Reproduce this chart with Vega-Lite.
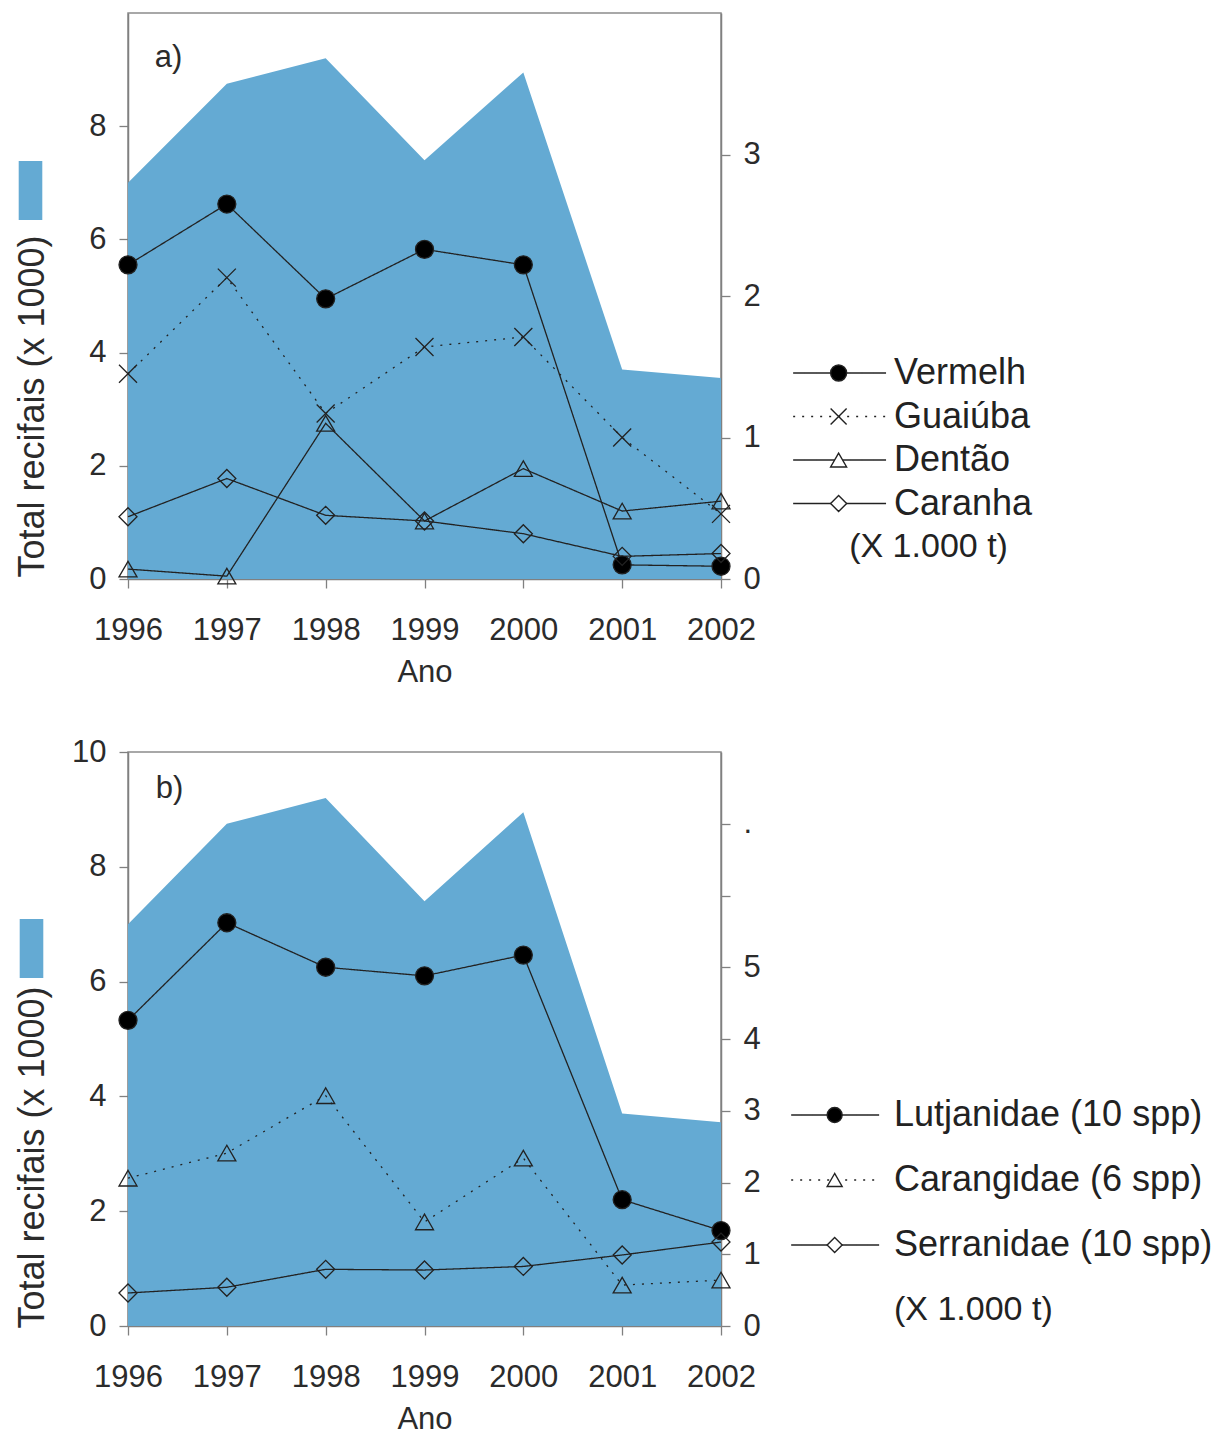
{
  "$schema": "https://vega.github.io/schema/vega-lite/v6.json",
  "background": "white",
  "padding": {"left": 0, "top": 12, "right": 0, "bottom": 0},
  "config": {
    "font": "Liberation Sans",
    "view": {"stroke": "#8c8c8c", "strokeWidth": 1.5},
    "axis": {
      "grid": false,
      "domainColor": "#808080",
      "domainWidth": 1.5,
      "tickColor": "#808080",
      "tickWidth": 1.3,
      "tickSize": 9,
      "labelFont": "Liberation Sans",
      "labelFontSize": 31,
      "labelColor": "#2b2b2b",
      "labelPadding": 13,
      "titleFont": "Liberation Sans",
      "titleFontSize": 36,
      "titleFontWeight": "normal",
      "titleColor": "#2b2b2b"
    },
    "axisX": {"labelPadding": 27, "titlePadding": 12, "labelFlush": false, "titleFontSize": 31}
  },
  "datasets": {
    "total": [
      {"ano": 1996, "total": 7.0},
      {"ano": 1997, "total": 8.75},
      {"ano": 1998, "total": 9.2},
      {"ano": 1999, "total": 7.4},
      {"ano": 2000, "total": 8.95},
      {"ano": 2001, "total": 3.7},
      {"ano": 2002, "total": 3.55}
    ],
    "especies": [
      {"ano": 1996, "serie": "Vermelh", "valor": 2.22},
      {"ano": 1997, "serie": "Vermelh", "valor": 2.65},
      {"ano": 1998, "serie": "Vermelh", "valor": 1.98},
      {"ano": 1999, "serie": "Vermelh", "valor": 2.33},
      {"ano": 2000, "serie": "Vermelh", "valor": 2.22},
      {"ano": 2001, "serie": "Vermelh", "valor": 0.1},
      {"ano": 2002, "serie": "Vermelh", "valor": 0.09},
      {"ano": 1996, "serie": "Guaiúba", "valor": 1.45},
      {"ano": 1997, "serie": "Guaiúba", "valor": 2.13},
      {"ano": 1998, "serie": "Guaiúba", "valor": 1.17},
      {"ano": 1999, "serie": "Guaiúba", "valor": 1.64},
      {"ano": 2000, "serie": "Guaiúba", "valor": 1.71},
      {"ano": 2001, "serie": "Guaiúba", "valor": 1.0},
      {"ano": 2002, "serie": "Guaiúba", "valor": 0.46},
      {"ano": 1996, "serie": "Dentão", "valor": 0.07},
      {"ano": 1997, "serie": "Dentão", "valor": 0.02},
      {"ano": 1998, "serie": "Dentão", "valor": 1.1},
      {"ano": 1999, "serie": "Dentão", "valor": 0.41},
      {"ano": 2000, "serie": "Dentão", "valor": 0.78},
      {"ano": 2001, "serie": "Dentão", "valor": 0.48},
      {"ano": 2002, "serie": "Dentão", "valor": 0.55},
      {"ano": 1996, "serie": "Caranha", "valor": 0.44},
      {"ano": 1997, "serie": "Caranha", "valor": 0.71},
      {"ano": 1998, "serie": "Caranha", "valor": 0.45},
      {"ano": 1999, "serie": "Caranha", "valor": 0.41},
      {"ano": 2000, "serie": "Caranha", "valor": 0.32},
      {"ano": 2001, "serie": "Caranha", "valor": 0.16},
      {"ano": 2002, "serie": "Caranha", "valor": 0.18}
    ],
    "familias": [
      {"ano": 1996, "serie": "Lutjanidae (10 spp)", "valor": 4.26},
      {"ano": 1997, "serie": "Lutjanidae (10 spp)", "valor": 5.62},
      {"ano": 1998, "serie": "Lutjanidae (10 spp)", "valor": 5.0},
      {"ano": 1999, "serie": "Lutjanidae (10 spp)", "valor": 4.88},
      {"ano": 2000, "serie": "Lutjanidae (10 spp)", "valor": 5.17},
      {"ano": 2001, "serie": "Lutjanidae (10 spp)", "valor": 1.76},
      {"ano": 2002, "serie": "Lutjanidae (10 spp)", "valor": 1.33},
      {"ano": 1996, "serie": "Carangidae (6 spp)", "valor": 2.06},
      {"ano": 1997, "serie": "Carangidae (6 spp)", "valor": 2.41},
      {"ano": 1998, "serie": "Carangidae (6 spp)", "valor": 3.21},
      {"ano": 1999, "serie": "Carangidae (6 spp)", "valor": 1.45},
      {"ano": 2000, "serie": "Carangidae (6 spp)", "valor": 2.34},
      {"ano": 2001, "serie": "Carangidae (6 spp)", "valor": 0.57},
      {"ano": 2002, "serie": "Carangidae (6 spp)", "valor": 0.64},
      {"ano": 1996, "serie": "Serranidae (10 spp)", "valor": 0.46},
      {"ano": 1997, "serie": "Serranidae (10 spp)", "valor": 0.54},
      {"ano": 1998, "serie": "Serranidae (10 spp)", "valor": 0.79},
      {"ano": 1999, "serie": "Serranidae (10 spp)", "valor": 0.78},
      {"ano": 2000, "serie": "Serranidae (10 spp)", "valor": 0.83},
      {"ano": 2001, "serie": "Serranidae (10 spp)", "valor": 0.99},
      {"ano": 2002, "serie": "Serranidae (10 spp)", "valor": 1.17}
    ],
    "legenda_a": [
      {"serie": "Vermelh"},
      {"serie": "Guaiúba"},
      {"serie": "Dentão"},
      {"serie": "Caranha"}
    ],
    "legenda_b": [
      {"serie": "Lutjanidae (10 spp)"},
      {"serie": "Carangidae (6 spp)"},
      {"serie": "Serranidae (10 spp)"}
    ],
    "unidade": [{"serie": "(X 1.000 t)"}],
    "rotulo_a": [{"painel": "a)"}],
    "rotulo_b": [{"painel": "b)"}]
  },
  "spacing": 47,
  "vconcat": [
    {
      "width": 593,
      "height": 566,
      "layer": [
        {
          "data": {"name": "total"},
          "mark": {"type": "area", "color": "#64AAD3", "opacity": 1},
          "encoding": {
            "x": {
              "field": "ano", "type": "quantitative",
              "scale": {"domain": [1996, 2002], "nice": false, "zero": false},
              "axis": {"values": [1996, 1997, 1998, 1999, 2000, 2001, 2002], "format": "d", "title": "Ano"}
            },
            "y": {
              "field": "total", "type": "quantitative",
              "scale": {"domain": [0, 10], "nice": false},
              "axis": {
                "orient": "left", "values": [0, 2, 4, 6, 8],
                "title": "Total recifais (x 1000)",
                "titleX": -85, "titleY": 393, "titleAngle": -90,
                "titleBaseline": "alphabetic", "titleAlign": "center"
              }
            },
            "fill": {
              "datum": "Total recifais", "type": "nominal",
              "scale": {"range": ["#64AAD3"]},
              "legend": {
                "title": null, "orient": "none", "legendX": -127, "legendY": 148,
                "symbolType": "M-0.4,-1H0.4V1H-0.4Z", "symbolSize": 3481,
                "symbolStrokeWidth": 0, "symbolOpacity": 1, "symbolOffset": 0,
                "labelExpr": "''", "padding": 0
              }
            }
          }
        },
        {
          "data": {"name": "rotulo_a"},
          "mark": {"type": "text", "fontSize": 31, "color": "#2b2b2b", "align": "center", "baseline": "middle"},
          "encoding": {
            "x": {"datum": 1996.41, "type": "quantitative", "scale": {"domain": [1996, 2002], "nice": false, "zero": false}},
            "y": {"datum": 9.2, "type": "quantitative", "scale": {"domain": [0, 10], "nice": false}, "axis": null},
            "text": {"field": "painel"}
          }
        },
        {
          "data": {"name": "especies"},
          "mark": {"type": "line", "color": "#222222", "strokeWidth": 1.3},
          "encoding": {
            "x": {"field": "ano", "type": "quantitative", "scale": {"domain": [1996, 2002], "nice": false, "zero": false}},
            "y": {
              "field": "valor", "type": "quantitative",
              "scale": {"domain": [0, 4], "nice": false},
              "axis": {"orient": "right", "values": [0, 1, 2, 3], "title": null}
            },
            "strokeDash": {
              "field": "serie", "type": "nominal",
              "scale": {"domain": ["Vermelh", "Guaiúba", "Dentão", "Caranha"], "range": [[1, 0], [2, 7], [1, 0], [1, 0]]},
              "legend": null
            }
          }
        },
        {
          "data": {"name": "especies"},
          "mark": {"type": "point", "filled": true, "size": 324, "stroke": "#222222", "strokeWidth": 1.3, "opacity": 1},
          "encoding": {
            "x": {"field": "ano", "type": "quantitative", "scale": {"domain": [1996, 2002], "nice": false, "zero": false}},
            "y": {"field": "valor", "type": "quantitative", "scale": {"domain": [0, 4], "nice": false}, "axis": null},
            "shape": {
              "condition": [
                {"test": "datum.serie === 'Vermelh'", "value": "circle"},
                {"test": "datum.serie === 'Guaiúba'", "value": "M-1,-1L1,1M1,-1L-1,1"},
                {"test": "datum.serie === 'Dentão'", "value": "triangle-up"}
              ],
              "value": "diamond"
            },
            "fill": {
              "condition": {"test": "datum.serie === 'Vermelh'", "value": "#000000"},
              "value": "transparent"
            }
          }
        },
        {
          "data": {"name": "legenda_a"},
          "mark": {"type": "rule", "color": "#222222", "strokeWidth": 1.4},
          "encoding": {
            "x": {"datum": 2002.73, "type": "quantitative", "scale": {"domain": [1996, 2002], "nice": false, "zero": false}},
            "x2": {"datum": 2003.67},
            "y": {
              "field": "serie", "type": "nominal", "axis": null,
              "scale": {"type": "point", "padding": 0, "domain": ["Vermelh", "Guaiúba", "Dentão", "Caranha", "(X 1.000 t)"], "range": [360, 534]}
            },
            "strokeDash": {
              "condition": {"test": "datum.serie === 'Guaiúba'", "value": [2, 7]},
              "value": [1, 0]
            }
          }
        },
        {
          "data": {"name": "legenda_a"},
          "mark": {"type": "point", "filled": true, "size": 256, "stroke": "#222222", "strokeWidth": 1.4, "opacity": 1},
          "encoding": {
            "x": {"datum": 2003.19, "type": "quantitative", "scale": {"domain": [1996, 2002], "nice": false, "zero": false}},
            "y": {
              "field": "serie", "type": "nominal", "axis": null,
              "scale": {"type": "point", "padding": 0, "domain": ["Vermelh", "Guaiúba", "Dentão", "Caranha", "(X 1.000 t)"], "range": [360, 534]}
            },
            "shape": {
              "condition": [
                {"test": "datum.serie === 'Vermelh'", "value": "circle"},
                {"test": "datum.serie === 'Guaiúba'", "value": "M-1,-1L1,1M1,-1L-1,1"},
                {"test": "datum.serie === 'Dentão'", "value": "triangle-up"}
              ],
              "value": "diamond"
            },
            "fill": {
              "condition": [
                {"test": "datum.serie === 'Vermelh'", "value": "#000000"},
                {"test": "datum.serie === 'Guaiúba'", "value": "transparent"}
              ],
              "value": "#ffffff"
            }
          }
        },
        {
          "data": {"name": "legenda_a"},
          "mark": {"type": "text", "fontSize": 36, "color": "#222222", "align": "left", "baseline": "middle"},
          "encoding": {
            "x": {"datum": 2003.75, "type": "quantitative", "scale": {"domain": [1996, 2002], "nice": false, "zero": false}},
            "y": {
              "field": "serie", "type": "nominal", "axis": null,
              "scale": {"type": "point", "padding": 0, "domain": ["Vermelh", "Guaiúba", "Dentão", "Caranha", "(X 1.000 t)"], "range": [360, 534]}
            },
            "text": {"field": "serie"}
          }
        },
        {
          "data": {"name": "unidade"},
          "mark": {"type": "text", "fontSize": 34, "color": "#222222", "align": "center", "baseline": "middle"},
          "encoding": {
            "x": {"datum": 2004.1, "type": "quantitative", "scale": {"domain": [1996, 2002], "nice": false, "zero": false}},
            "y": {
              "field": "serie", "type": "nominal", "axis": null,
              "scale": {"type": "point", "padding": 0, "domain": ["Vermelh", "Guaiúba", "Dentão", "Caranha", "(X 1.000 t)"], "range": [360, 534]}
            },
            "text": {"field": "serie"}
          }
        }
      ],
      "resolve": {
        "scale": {"y": "independent", "fill": "independent"},
        "axis": {"y": "independent"},
        "legend": {"fill": "independent"}
      }
    },
    {
      "width": 593,
      "height": 574,
      "layer": [
        {
          "data": {"name": "total"},
          "mark": {"type": "area", "color": "#64AAD3", "opacity": 1},
          "encoding": {
            "x": {
              "field": "ano", "type": "quantitative",
              "scale": {"domain": [1996, 2002], "nice": false, "zero": false},
              "axis": {"values": [1996, 1997, 1998, 1999, 2000, 2001, 2002], "format": "d", "title": "Ano"}
            },
            "y": {
              "field": "total", "type": "quantitative",
              "scale": {"domain": [0, 10], "nice": false},
              "axis": {
                "orient": "left", "values": [0, 2, 4, 6, 8, 10],
                "title": "Total recifais (x 1000)",
                "titleX": -85, "titleY": 405, "titleAngle": -90,
                "titleBaseline": "alphabetic", "titleAlign": "center"
              }
            },
            "fill": {
              "datum": "Total recifais", "type": "nominal",
              "scale": {"range": ["#64AAD3"]},
              "legend": {
                "title": null, "orient": "none", "legendX": -126, "legendY": 167,
                "symbolType": "M-0.4,-1H0.4V1H-0.4Z", "symbolSize": 3481,
                "symbolStrokeWidth": 0, "symbolOpacity": 1, "symbolOffset": 0,
                "labelExpr": "''", "padding": 0
              }
            }
          }
        },
        {
          "data": {"name": "rotulo_b"},
          "mark": {"type": "text", "fontSize": 31, "color": "#2b2b2b", "align": "center", "baseline": "middle"},
          "encoding": {
            "x": {"datum": 1996.42, "type": "quantitative", "scale": {"domain": [1996, 2002], "nice": false, "zero": false}},
            "y": {"datum": 9.35, "type": "quantitative", "scale": {"domain": [0, 10], "nice": false}, "axis": null},
            "text": {"field": "painel"}
          }
        },
        {
          "data": {"name": "familias"},
          "mark": {"type": "line", "color": "#222222", "strokeWidth": 1.3},
          "encoding": {
            "x": {"field": "ano", "type": "quantitative", "scale": {"domain": [1996, 2002], "nice": false, "zero": false}},
            "y": {
              "field": "valor", "type": "quantitative",
              "scale": {"domain": [0, 8], "nice": false},
              "axis": {
                "orient": "right", "values": [0, 1, 2, 3, 4, 5, 6, 7], "title": null,
                "labelExpr": "datum.value <= 5 ? datum.label : (datum.value == 7 ? '.' : '')"
              }
            },
            "strokeDash": {
              "field": "serie", "type": "nominal",
              "scale": {"domain": ["Lutjanidae (10 spp)", "Carangidae (6 spp)", "Serranidae (10 spp)"], "range": [[1, 0], [2, 7], [1, 0]]},
              "legend": null
            }
          }
        },
        {
          "data": {"name": "familias"},
          "mark": {"type": "point", "filled": true, "size": 324, "stroke": "#222222", "strokeWidth": 1.3, "opacity": 1},
          "encoding": {
            "x": {"field": "ano", "type": "quantitative", "scale": {"domain": [1996, 2002], "nice": false, "zero": false}},
            "y": {"field": "valor", "type": "quantitative", "scale": {"domain": [0, 8], "nice": false}, "axis": null},
            "shape": {
              "condition": [
                {"test": "datum.serie === 'Lutjanidae (10 spp)'", "value": "circle"},
                {"test": "datum.serie === 'Carangidae (6 spp)'", "value": "triangle-up"}
              ],
              "value": "diamond"
            },
            "fill": {
              "condition": {"test": "datum.serie === 'Lutjanidae (10 spp)'", "value": "#000000"},
              "value": "transparent"
            }
          }
        },
        {
          "data": {"name": "legenda_b"},
          "mark": {"type": "rule", "color": "#222222", "strokeWidth": 1.4},
          "encoding": {
            "x": {"datum": 2002.71, "type": "quantitative", "scale": {"domain": [1996, 2002], "nice": false, "zero": false}},
            "x2": {"datum": 2003.6},
            "y": {
              "field": "serie", "type": "nominal", "axis": null,
              "scale": {"type": "point", "padding": 0, "domain": ["Lutjanidae (10 spp)", "Carangidae (6 spp)", "Serranidae (10 spp)", "(X 1.000 t)"], "range": [363, 558]}
            },
            "strokeDash": {
              "condition": {"test": "datum.serie === 'Carangidae (6 spp)'", "value": [2, 7]},
              "value": [1, 0]
            }
          }
        },
        {
          "data": {"name": "legenda_b"},
          "mark": {"type": "point", "filled": true, "size": 225, "stroke": "#222222", "strokeWidth": 1.4, "opacity": 1},
          "encoding": {
            "x": {"datum": 2003.15, "type": "quantitative", "scale": {"domain": [1996, 2002], "nice": false, "zero": false}},
            "y": {
              "field": "serie", "type": "nominal", "axis": null,
              "scale": {"type": "point", "padding": 0, "domain": ["Lutjanidae (10 spp)", "Carangidae (6 spp)", "Serranidae (10 spp)", "(X 1.000 t)"], "range": [363, 558]}
            },
            "shape": {
              "condition": [
                {"test": "datum.serie === 'Lutjanidae (10 spp)'", "value": "circle"},
                {"test": "datum.serie === 'Carangidae (6 spp)'", "value": "triangle-up"}
              ],
              "value": "diamond"
            },
            "fill": {
              "condition": {"test": "datum.serie === 'Lutjanidae (10 spp)'", "value": "#000000"},
              "value": "#ffffff"
            }
          }
        },
        {
          "data": {"name": "legenda_b"},
          "mark": {"type": "text", "fontSize": 36, "color": "#222222", "align": "left", "baseline": "middle"},
          "encoding": {
            "x": {"datum": 2003.75, "type": "quantitative", "scale": {"domain": [1996, 2002], "nice": false, "zero": false}},
            "y": {
              "field": "serie", "type": "nominal", "axis": null,
              "scale": {"type": "point", "padding": 0, "domain": ["Lutjanidae (10 spp)", "Carangidae (6 spp)", "Serranidae (10 spp)", "(X 1.000 t)"], "range": [363, 558]}
            },
            "text": {"field": "serie"}
          }
        },
        {
          "data": {"name": "unidade"},
          "mark": {"type": "text", "fontSize": 34, "color": "#222222", "align": "left", "baseline": "middle"},
          "encoding": {
            "x": {"datum": 2003.75, "type": "quantitative", "scale": {"domain": [1996, 2002], "nice": false, "zero": false}},
            "y": {
              "field": "serie", "type": "nominal", "axis": null,
              "scale": {"type": "point", "padding": 0, "domain": ["Lutjanidae (10 spp)", "Carangidae (6 spp)", "Serranidae (10 spp)", "(X 1.000 t)"], "range": [363, 558]}
            },
            "text": {"field": "serie"}
          }
        }
      ],
      "resolve": {
        "scale": {"y": "independent", "fill": "independent"},
        "axis": {"y": "independent"},
        "legend": {"fill": "independent"}
      }
    }
  ],
  "resolve": {
    "scale": {"x": "independent", "y": "independent", "fill": "independent", "shape": "independent", "strokeDash": "independent"},
    "legend": {"fill": "independent", "shape": "independent"}
  }
}
